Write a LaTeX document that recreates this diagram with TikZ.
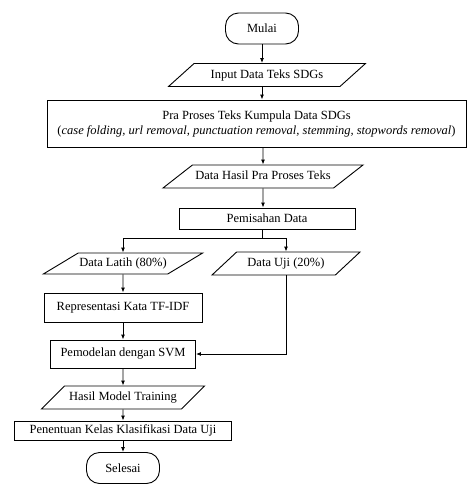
\documentclass[tikz,border=0pt]{standalone}
\usepackage{fontspec}
\setmainfont{Liberation Serif}
\usetikzlibrary{shapes.geometric,arrows.meta}

\begin{document}
\begin{tikzpicture}[x=1pt,y=-1pt,line width=0.9pt,
	font=\fontsize{12.5}{15}\selectfont,
	>={Latex[length=5pt,width=4pt]},
	proses/.style={draw,rectangle,inner sep=2pt,align=center},
	terminal/.style={draw,rectangle,rounded corners=13pt,minimum width=73pt,minimum height=31pt},
	data/.style={draw,trapezium,trapezium left angle=#1,trapezium right angle=180-#1,
		trapezium stretches body,inner xsep=1pt,inner ysep=5.5pt,text height=9pt,text depth=3pt},
	data/.default=40]
\useasboundingbox (0,0) rectangle (468,501);
% alur utama
\node[terminal] (mulai) at (262,28.5) {Mulai};
\node[data=42,minimum width=197pt] (input) at (267,75) {Input Data Teks SDGs};
\node[proses,minimum width=419pt,minimum height=47pt] (pra) at (256.5,123.5)
	{Pra Proses Teks Kumpula Data SDGs\\(\textit{case folding, url removal, punctuation removal, stemming, stopwords removal})};
\node[data=38,minimum width=200pt] (hasil) at (263,176.5) {Data Hasil Pra Proses Teks};
\node[proses,minimum width=176pt,minimum height=21pt] (pisah) at (267,218.5) {Pemisahan Data};
\coordinate (cabang) at (262,238);
% cabang latih / uji
\node[data=31,minimum width=150pt,inner ysep=4.5pt] (latih) at (123,263.5) {Data Latih (80\%)};
\node[data=43,minimum width=148pt] (uji) at (286,263.5) {Data Uji (20\%)};
\node[proses,minimum width=158pt,minimum height=29pt] (tfidf) at (123,307.5) {Representasi Kata TF-IDF};
\node[proses,minimum width=145pt,minimum height=28pt] (svm) at (123,354) {Pemodelan dengan SVM};
\node[data=45,minimum width=163pt] (model) at (123,397.5) {Hasil Model Training};
\node[proses,minimum width=217pt,minimum height=19pt] (kelas) at (123,430.5) {Penentuan Kelas Klasifikasi Data Uji};
\node[terminal] (selesai) at (123,468) {Selesai};
% panah
\draw[->] (mulai) -- (mulai |- input.north);
\draw[->] (mulai |- input.south) -- (mulai |- pra.north);
\draw[->] (hasil.north |- pra.south) -- (hasil);
\draw[->] (hasil) -- (hasil |- pisah.north);
\draw (pisah.south -| cabang) -- (cabang);
\draw[->] (cabang) -| (latih.north);
\draw[->] (cabang) -| (uji.north);
\foreach \a/\b in {latih/tfidf,tfidf/svm,svm/model,model/kelas,kelas/selesai}
	\draw[->] (\a) -- (\b);
\draw[->] (uji.south) |- (svm.east);
\end{tikzpicture}
\end{document}
